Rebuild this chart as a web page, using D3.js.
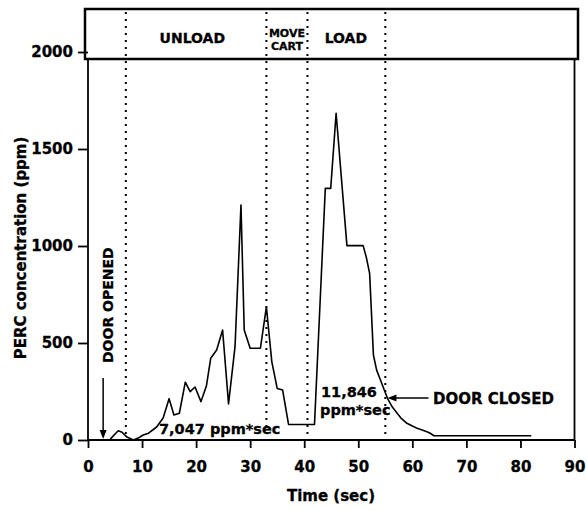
<!DOCTYPE html>
<html>
<head>
<meta charset="utf-8">
<script src="https://cdn.jsdelivr.net/npm/d3@7"></script>
<style>
  html, body { margin: 0; padding: 0; background: #fff; }
  svg { display: block; }
  text { font-family: "DejaVu Sans", "Liberation Sans", Arial, sans-serif; font-weight: bold; fill: #000; stroke: #000; stroke-width: 0.3px; }
</style>
</head>
<body>
<svg id="chart" width="586" height="510"></svg>
<script>
// ---- data ----
const timeSec = [4, 4.8, 5.6, 6.3, 7.2, 8.4, 9.3, 10.2, 11.2, 12.7, 13.9, 15, 15.9, 16.9, 18, 18.9, 19.8, 20.9, 21.9, 22.7, 23.8, 24.9, 26, 27.2, 28.3, 28.9, 30, 31.9, 33, 34, 35, 36, 37.1, 41.9, 43.9, 44.9, 45.9, 47.9, 50.9, 51.5, 52.1, 52.8, 53.4, 54.1, 55.4, 56.3, 57.2, 58, 59, 60, 60.9, 61.8, 62.7, 63.3, 64, 82];
const percPpm = [0, 25, 48, 40, 15, 0, 10, 26, 35, 67, 113, 213, 129, 138, 298, 249, 273, 198, 278, 421, 464, 567, 186, 481, 1211, 567, 473, 473, 686, 404, 266, 258, 80, 80, 1297, 1297, 1684, 1002, 1002, 940, 859, 438, 360, 309, 215, 170, 138, 110, 86, 72, 60, 52, 43, 35, 22, 22];
const xTicks = [0, 10, 20, 30, 40, 50, 60, 70, 80, 90];
const yTicks = [0, 500, 1000, 1500, 2000];
const phaseBoundaries = [7, 33, 40.6, 55];
const phaseLabels = ["UNLOAD", "MOVE CART", "LOAD"];
const phaseLabelTimes = [19.3, 36.8, 47.7];
const annotations = ["7,047 ppm*sec", "11,846", "ppm*sec"];
const doorOpenedTime = 2.8;
const doorClosedTime = 55.4;

// ---- scales ----
const svg = d3.select("#chart");
const x = d3.scaleLinear().domain([0, 90]).range([88, 574.5]);
const y = d3.scaleLinear().domain([0, 2000]).range([440, 52]);
const plotTop = 59, boxTop = 9;

// phase box
svg.append("rect").attr("x", 85).attr("y", boxTop).attr("width", 493).attr("height", plotTop - boxTop)
  .attr("fill", "none").attr("stroke", "#000").attr("stroke-width", 2.5);

// dotted phase lines
svg.selectAll("line.phase").data(phaseBoundaries).join("line")
  .attr("class", "phase")
  .attr("x1", d => x(d)).attr("x2", d => x(d))
  .attr("y1", boxTop + 3).attr("y2", y(0))
  .attr("stroke", "#000").attr("stroke-width", 2)
  .attr("stroke-dasharray", "2,5");

// phase labels
svg.append("text").attr("x", x(phaseLabelTimes[0])).attr("y", 43).attr("text-anchor", "middle")
  .style("font-size", "14px").text(phaseLabels[0]);
const mc = phaseLabels[1].split(" ");
svg.append("text").attr("x", x(phaseLabelTimes[1])).attr("y", 37).attr("text-anchor", "middle")
  .style("font-size", "11px").text(mc[0]);
svg.append("text").attr("x", x(phaseLabelTimes[1])).attr("y", 50).attr("text-anchor", "middle")
  .style("font-size", "11px").text(mc[1]);
svg.append("text").attr("x", x(phaseLabelTimes[2])).attr("y", 43).attr("text-anchor", "middle")
  .style("font-size", "14px").text(phaseLabels[2]);

// axes
const xAxis = svg.append("g").attr("transform", `translate(0,${y(0)})`)
  .call(d3.axisBottom(x).tickValues(xTicks).tickSize(8).tickPadding(13).tickFormat(d3.format("d")));
xAxis.select(".domain").remove();
xAxis.selectAll(".tick line").attr("stroke-width", 1.8);
xAxis.selectAll("text").style("font-size", "15px").style("font-family", null).attr("fill", null);

const yAxis = svg.append("g").attr("transform", `translate(${x(0)},0)`)
  .call(d3.axisLeft(y).tickValues(yTicks).tickSize(10).tickPadding(5).tickFormat(d3.format("d")));
yAxis.select(".domain").remove();
yAxis.selectAll(".tick line").attr("stroke-width", 1.8);
yAxis.selectAll("text").style("font-size", "15px").style("font-family", null).attr("fill", null);

// frame lines
svg.append("line").attr("x1", x(0)).attr("x2", x(90)).attr("y1", y(0)).attr("y2", y(0))
  .attr("stroke", "#000").attr("stroke-width", 1.8);
svg.append("line").attr("x1", x(0)).attr("x2", x(0)).attr("y1", plotTop).attr("y2", y(0))
  .attr("stroke", "#000").attr("stroke-width", 1.8);
svg.append("line").attr("x1", x(90)).attr("x2", x(90)).attr("y1", plotTop).attr("y2", y(0))
  .attr("stroke", "#000").attr("stroke-width", 1.8);

// data line
const pts = timeSec.map((t, i) => [t, percPpm[i]]);
svg.append("path").datum(pts)
  .attr("fill", "none").attr("stroke", "#000").attr("stroke-width", 1.6).attr("stroke-linejoin", "round")
  .attr("d", d3.line().x(d => x(d[0])).y(d => y(d[1])));

// axis titles
svg.append("text").attr("x", 331).attr("y", 501).attr("text-anchor", "middle")
  .style("font-size", "15px").text("Time (sec)");
svg.append("text").attr("transform", "translate(26,248) rotate(-90)").attr("text-anchor", "middle")
  .style("font-size", "15px").text("PERC concentration (ppm)");

// annotations
svg.append("text").attr("x", 159).attr("y", 434).style("font-size", "14.5px").text(annotations[0]);
svg.append("text").attr("x", 321).attr("y", 397).style("font-size", "14.5px").text(annotations[1]);
svg.append("text").attr("x", 320).attr("y", 415).style("font-size", "14.5px").text(annotations[2]);

// DOOR OPENED
svg.append("text").attr("transform", "translate(113,363) rotate(-90)")
  .style("font-size", "14px").text("DOOR OPENED");
const ax = x(doorOpenedTime);
svg.append("line").attr("x1", ax).attr("x2", ax).attr("y1", 378).attr("y2", 432)
  .attr("stroke", "#000").attr("stroke-width", 1.5);
svg.append("path").attr("d", `M${ax - 3.5},430 L${ax + 3.5},430 L${ax},439 Z`).attr("fill", "#000");

// DOOR CLOSED
const cx = x(doorClosedTime), cy = 398;
svg.append("line").attr("x1", cx + 6).attr("x2", cx + 41).attr("y1", cy).attr("y2", cy)
  .attr("stroke", "#000").attr("stroke-width", 1.5);
svg.append("path").attr("d", `M${cx},${cy} L${cx + 9},${cy - 3.5} L${cx + 9},${cy + 3.5} Z`).attr("fill", "#000");
svg.append("text").attr("x", 433).attr("y", cy + 5.5).style("font-size", "15px").text("DOOR CLOSED");
</script>
</body>
</html>
